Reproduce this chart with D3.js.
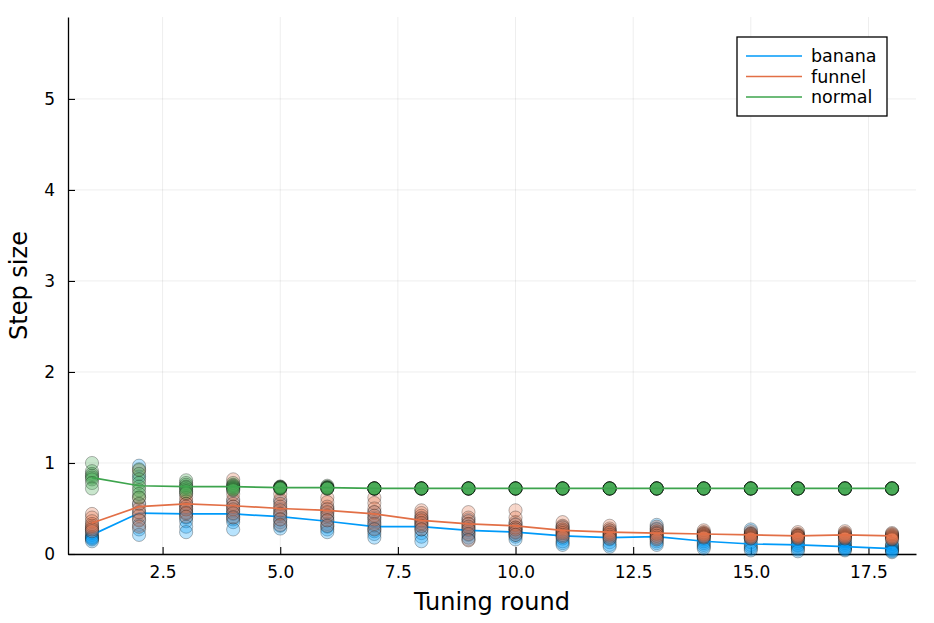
<!DOCTYPE html>
<html>
<head>
<meta charset="utf-8">
<script src="https://cdn.jsdelivr.net/npm/d3@7"></script>
<style>
  body { margin: 0; background: #fff; }
  text { font-family: "DejaVu Sans", sans-serif; }
</style>
</head>
<body>
<svg id="chart"></svg>
<script>
// Tuning rounds and axis ticks
const rounds = d3.range(1, 19);
const xTicks = [2.5, 5.0, 7.5, 10.0, 12.5, 15.0, 17.5];
const yTicks = [0, 1, 2, 3, 4, 5];

// Mean step size per round (lines)
const bananaMean = [0.21, 0.45, 0.44, 0.44, 0.41, 0.36, 0.30, 0.30, 0.26, 0.24, 0.20, 0.18, 0.19, 0.14, 0.11, 0.10, 0.08, 0.06];
const funnelMean = [0.34, 0.52, 0.55, 0.53, 0.50, 0.48, 0.44, 0.37, 0.33, 0.31, 0.26, 0.24, 0.23, 0.22, 0.21, 0.20, 0.21, 0.20];
const normalMean = [0.84, 0.75, 0.74, 0.74, 0.73, 0.73, 0.72, 0.72, 0.72, 0.72, 0.72, 0.72, 0.72, 0.72, 0.72, 0.72, 0.72, 0.72];

// Step size of each chain per round (scatter)
const bananaChains = [
  [0.27, 0.23, 0.21, 0.19, 0.18, 0.17, 0.16, 0.14],
  [0.97, 0.85, 0.55, 0.45, 0.38, 0.32, 0.27, 0.21],
  [0.55, 0.50, 0.46, 0.44, 0.40, 0.36, 0.30, 0.24],
  [0.58, 0.52, 0.47, 0.44, 0.41, 0.38, 0.35, 0.27],
  [0.58, 0.50, 0.45, 0.42, 0.38, 0.35, 0.31, 0.28],
  [0.50, 0.45, 0.40, 0.37, 0.33, 0.30, 0.27, 0.24],
  [0.46, 0.40, 0.35, 0.31, 0.28, 0.25, 0.22, 0.18],
  [0.40, 0.36, 0.33, 0.30, 0.27, 0.23, 0.19, 0.14],
  [0.38, 0.33, 0.29, 0.26, 0.24, 0.21, 0.18, 0.16],
  [0.33, 0.29, 0.27, 0.25, 0.23, 0.21, 0.19, 0.16],
  [0.30, 0.26, 0.23, 0.20, 0.17, 0.14, 0.12, 0.10],
  [0.26, 0.22, 0.20, 0.18, 0.16, 0.13, 0.10, 0.08],
  [0.32, 0.28, 0.24, 0.20, 0.17, 0.14, 0.12, 0.10],
  [0.22, 0.19, 0.16, 0.14, 0.12, 0.10, 0.08, 0.06],
  [0.27, 0.22, 0.17, 0.13, 0.10, 0.08, 0.06, 0.04],
  [0.17, 0.14, 0.12, 0.10, 0.09, 0.07, 0.05, 0.03],
  [0.14, 0.12, 0.10, 0.08, 0.07, 0.06, 0.05, 0.04],
  [0.11, 0.09, 0.08, 0.06, 0.05, 0.04, 0.03, 0.02]
];
const funnelChains = [
  [0.44, 0.40, 0.36, 0.33, 0.31, 0.29, 0.27, 0.25],
  [0.92, 0.62, 0.55, 0.50, 0.46, 0.42, 0.37, 0.30],
  [0.66, 0.62, 0.58, 0.55, 0.52, 0.49, 0.45, 0.41],
  [0.82, 0.66, 0.60, 0.55, 0.52, 0.49, 0.45, 0.40],
  [0.66, 0.60, 0.55, 0.52, 0.48, 0.44, 0.38, 0.32],
  [0.62, 0.57, 0.52, 0.49, 0.46, 0.42, 0.37, 0.31],
  [0.62, 0.56, 0.50, 0.46, 0.42, 0.38, 0.33, 0.27],
  [0.48, 0.45, 0.42, 0.39, 0.37, 0.34, 0.31, 0.27],
  [0.46, 0.40, 0.36, 0.33, 0.30, 0.27, 0.22, 0.15],
  [0.48, 0.40, 0.35, 0.32, 0.29, 0.27, 0.24, 0.21],
  [0.35, 0.31, 0.29, 0.27, 0.25, 0.23, 0.21, 0.19],
  [0.31, 0.28, 0.26, 0.24, 0.23, 0.21, 0.19, 0.17],
  [0.30, 0.27, 0.25, 0.23, 0.22, 0.20, 0.18, 0.16],
  [0.26, 0.24, 0.23, 0.22, 0.21, 0.20, 0.19, 0.18],
  [0.25, 0.23, 0.22, 0.21, 0.20, 0.19, 0.18, 0.17],
  [0.24, 0.22, 0.21, 0.20, 0.20, 0.19, 0.18, 0.17],
  [0.25, 0.23, 0.22, 0.21, 0.20, 0.19, 0.18, 0.17],
  [0.23, 0.22, 0.21, 0.20, 0.19, 0.18, 0.17, 0.16]
];
const normalChains = [
  [1.00, 0.91, 0.88, 0.86, 0.84, 0.82, 0.78, 0.72],
  [0.93, 0.88, 0.82, 0.78, 0.74, 0.70, 0.66, 0.62],
  [0.81, 0.78, 0.76, 0.74, 0.73, 0.71, 0.69, 0.67],
  [0.78, 0.76, 0.75, 0.74, 0.73, 0.72, 0.71, 0.70],
  [0.74, 0.74, 0.73, 0.73, 0.73, 0.73, 0.72, 0.72],
  [0.75, 0.74, 0.73, 0.73, 0.73, 0.72, 0.72, 0.72],
  [0.72, 0.72, 0.72, 0.72, 0.72, 0.72, 0.72, 0.72],
  [0.72, 0.72, 0.72, 0.72, 0.72, 0.72, 0.72, 0.72],
  [0.72, 0.72, 0.72, 0.72, 0.72, 0.72, 0.72, 0.72],
  [0.72, 0.72, 0.72, 0.72, 0.72, 0.72, 0.72, 0.72],
  [0.72, 0.72, 0.72, 0.72, 0.72, 0.72, 0.72, 0.72],
  [0.72, 0.72, 0.72, 0.72, 0.72, 0.72, 0.72, 0.72],
  [0.72, 0.72, 0.72, 0.72, 0.72, 0.72, 0.72, 0.72],
  [0.72, 0.72, 0.72, 0.72, 0.72, 0.72, 0.72, 0.72],
  [0.72, 0.72, 0.72, 0.72, 0.72, 0.72, 0.72, 0.72],
  [0.72, 0.72, 0.72, 0.72, 0.72, 0.72, 0.72, 0.72],
  [0.72, 0.72, 0.72, 0.72, 0.72, 0.72, 0.72, 0.72],
  [0.72, 0.72, 0.72, 0.72, 0.72, 0.72, 0.72, 0.72]
];

const seriesNames = ["banana", "funnel", "normal"];
const colors = ["#009af9", "#e26f46", "#3da44d"];

const series = [
  { name: seriesNames[0], mean: bananaMean, chains: bananaChains, color: colors[0] },
  { name: seriesNames[1], mean: funnelMean, chains: funnelChains, color: colors[1] },
  { name: seriesNames[2], mean: normalMean, chains: normalChains, color: colors[2] }
];

const width = 934, height = 623;
const margin = { top: 17, right: 18, bottom: 69, left: 68 };

const svg = d3.select("#chart")
    .attr("width", width)
    .attr("height", height);

const x = d3.scaleLinear()
    .domain([0.49, 18.51])
    .range([margin.left, width - margin.right]);

const y = d3.scaleLinear()
    .domain([0, 5.9])
    .range([height - margin.bottom, margin.top]);

// Grid lines
svg.append("g")
    .selectAll("line")
    .data(xTicks)
    .join("line")
    .attr("x1", d => x(d)).attr("x2", d => x(d))
    .attr("y1", y(0)).attr("y2", margin.top)
    .attr("stroke", "#000").attr("stroke-opacity", 0.1).attr("stroke-width", 0.7);

svg.append("g")
    .selectAll("line")
    .data(yTicks)
    .join("line")
    .attr("x1", margin.left).attr("x2", width - margin.right)
    .attr("y1", d => y(d)).attr("y2", d => y(d))
    .attr("stroke", "#000").attr("stroke-opacity", 0.1).attr("stroke-width", 0.7);

// Axes (ticks pointing inward)
const xAxis = svg.append("g")
    .attr("transform", `translate(0, ${y(0)})`)
    .call(d3.axisBottom(x).tickValues(xTicks).tickFormat(d3.format(".1f")).tickSizeInner(-7).tickSizeOuter(0).tickPadding(12));

const yAxis = svg.append("g")
    .attr("transform", `translate(${margin.left}, 0)`)
    .call(d3.axisLeft(y).tickValues(yTicks).tickFormat(d3.format("d")).tickSizeInner(-7).tickSizeOuter(0).tickPadding(13));

[xAxis, yAxis].forEach(ax => {
    ax.select(".domain").attr("stroke", "#000").attr("stroke-width", 1.3);
    ax.selectAll(".tick line").attr("stroke", "#000").attr("stroke-width", 1.1);
    ax.selectAll("text")
        .style("font-family", "DejaVu Sans, sans-serif")
        .style("font-size", "17px")
        .attr("fill", "#000");
});

const line = d3.line()
    .x((d, i) => x(rounds[i]))
    .y(d => y(d));

// Scatter of chains, then the mean line, for each model
series.forEach(s => {
    const pts = [];
    s.chains.forEach((vals, i) => vals.forEach(v => pts.push({ r: rounds[i], v: v })));

    svg.append("g")
        .selectAll("circle")
        .data(pts)
        .join("circle")
        .attr("cx", d => x(d.r))
        .attr("cy", d => y(d.v))
        .attr("r", 6.6)
        .attr("fill", s.color)
        .attr("fill-opacity", 0.28)
        .attr("stroke", "#000")
        .attr("stroke-opacity", 0.28)
        .attr("stroke-width", 1);

    svg.append("path")
        .datum(s.mean)
        .attr("d", line)
        .attr("fill", "none")
        .attr("stroke", s.color)
        .attr("stroke-width", 1.7);
});

// Axis titles
svg.append("text")
    .attr("x", (margin.left + width - margin.right) / 2)
    .attr("y", 610)
    .attr("text-anchor", "middle")
    .style("font-size", "24px")
    .text("Tuning round");

svg.append("text")
    .attr("transform", `translate(27, ${(margin.top + y(0)) / 2}) rotate(-90)`)
    .attr("text-anchor", "middle")
    .style("font-size", "24px")
    .text("Step size");

// Legend
const legend = svg.append("g").attr("transform", "translate(737, 37)");
legend.append("rect")
    .attr("width", 150).attr("height", 79)
    .attr("fill", "#fff").attr("stroke", "#000").attr("stroke-width", 1.3);

series.forEach((s, i) => {
    const yy = 19 + i * 20.5;
    legend.append("line")
        .attr("x1", 9).attr("x2", 65)
        .attr("y1", yy).attr("y2", yy)
        .attr("stroke", s.color).attr("stroke-width", 1.7);
    legend.append("text")
        .attr("x", 74).attr("y", yy + 6)
        .style("font-size", "17.5px")
        .text(s.name);
});
</script>
</body>
</html>
